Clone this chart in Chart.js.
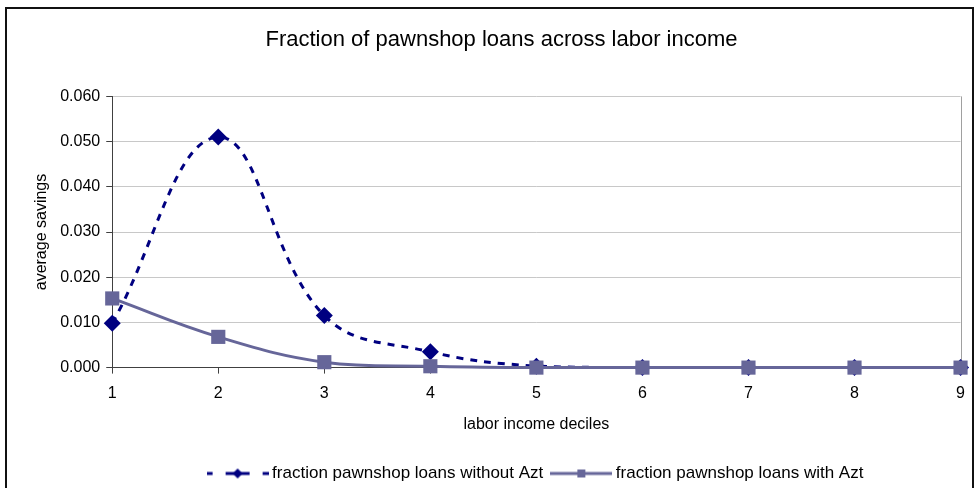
<!DOCTYPE html>
<html>
<head>
<meta charset="utf-8">
<script src="https://cdn.jsdelivr.net/npm/chart.js@4"></script>
<style>
    html, body { margin: 0; padding: 0; background: #fff; }
    #wrap { position: relative; width: 975px; height: 488px; overflow: hidden; }
    #frame {
        position: absolute; left: 5px; top: 7px; width: 969px; height: 500px;
        border: 2px solid #111; box-sizing: border-box;
    }
    canvas { position: absolute; left: 0; top: 0; }
</style>
</head>
<body>
<div id="wrap">
    <div id="frame"></div>
    <canvas id="chart" width="975" height="488"></canvas>
</div>
<script>
const deciles = ['1', '2', '3', '4', '5', '6', '7', '8', '9']
const withoutAzt = [0.0098, 0.0510, 0.0115, 0.0035, 0.0003, 0.0000, 0.0000, 0.0000, 0.0000]
const withAzt = [0.0153, 0.0068, 0.0012, 0.0003, 0.0000, 0.0000, 0.0000, 0.0000, 0.0000]
const yTicks = [0, 0.01, 0.02, 0.03, 0.04, 0.05, 0.06]

const NAVY = '#000080'
const PURPLE = '#666699'
const FONT = 'Arial, "Liberation Sans", sans-serif'

// little line+marker samples for the legend
function legendSample(color, dashed, marker) {
    const c = document.createElement('canvas')
    c.width = 62
    c.height = 16
    const ctx = c.getContext('2d')
    ctx.strokeStyle = color
    ctx.fillStyle = color
    ctx.lineWidth = 3
    ctx.beginPath()
    if (dashed) {
        for (const [a, b] of [[0, 6], [19, 25], [37, 43], [56, 62]]) {
            ctx.moveTo(a, 8)
            ctx.lineTo(b, 8)
        }
        ctx.stroke()
    } else {
        ctx.moveTo(0, 8)
        ctx.lineTo(62, 8)
        ctx.stroke()
    }
    if (marker === 'diamond') {
        ctx.beginPath()
        ctx.moveTo(31, 3)
        ctx.lineTo(36, 8)
        ctx.lineTo(31, 13)
        ctx.lineTo(26, 8)
        ctx.closePath()
        ctx.fill()
        ctx.fillRect(25, 6.5, 12, 3)
    } else {
        ctx.fillRect(27, 4, 8, 8)
    }
    return c
}

const samples = [
    legendSample(NAVY, true, 'diamond'),
    legendSample(PURPLE, false, 'square')
]

// plot frame on the right-hand side, legend moved under the plot
const plotFrame = {
    id: 'plotFrame',
    beforeDraw(chart) {
        const lg = chart.legend
        if (lg && !lg._nudged) {
            lg.left += 36
            lg.right += 36
            lg.top += 4
            lg.bottom += 4
            lg._nudged = true
        }
    },
    beforeDatasetsDraw(chart) {
        const a = chart.chartArea
        const ctx = chart.ctx
        ctx.save()
        ctx.strokeStyle = '#a0a0a0'
        ctx.lineWidth = 1
        ctx.beginPath()
        ctx.moveTo(Math.round(a.right) + 0.5, a.top)
        ctx.lineTo(Math.round(a.right) + 0.5, a.bottom)
        ctx.stroke()
        ctx.restore()
    }
}

new Chart(document.getElementById('chart'), {
    type: 'line',
    data: {
        labels: deciles,
        datasets: [{
            label: 'fraction pawnshop loans without Azt',
            data: withoutAzt,
            borderColor: NAVY,
            backgroundColor: NAVY,
            borderWidth: 3,
            borderDash: [7, 7],
            tension: 0.4,
            pointStyle: 'rectRot',
            pointRadius: 8.5,
            pointBorderWidth: 0,
            clip: false,
            order: 2
        }, {
            label: 'fraction pawnshop loans with Azt',
            data: withAzt,
            borderColor: PURPLE,
            backgroundColor: PURPLE,
            borderWidth: 3,
            tension: 0.4,
            pointStyle: 'rect',
            pointRadius: 10,
            pointBorderWidth: 0,
            clip: false,
            order: 1
        }]
    },
    options: {
        responsive: false,
        animation: false,
        layout: { padding: { left: 32, right: 4, top: 0, bottom: 0 } },
        plugins: {
            title: {
                display: true,
                text: 'Fraction of pawnshop loans across labor income',
                color: '#000',
                font: { family: FONT, size: 22, weight: 'normal' },
                padding: { top: 27, bottom: 43 }
            },
            legend: {
                position: 'bottom',
                labels: {
                    color: '#000',
                    font: { family: FONT, size: 17 },
                    usePointStyle: true,
                    pointStyleWidth: 52,
                    boxHeight: 14,
                    padding: 12,
                    sort: (a, b) => a.datasetIndex - b.datasetIndex,
                    generateLabels(chart) {
                        const items = Chart.defaults.plugins.legend.labels.generateLabels(chart)
                        items.forEach(item => { item.pointStyle = samples[item.datasetIndex] })
                        return items
                    }
                }
            },
            tooltip: { enabled: false }
        },
        scales: {
            x: {
                offset: false,
                grid: { drawOnChartArea: false, tickLength: 6, color: '#404040', tickColor: '#404040' },
                border: { color: '#404040', width: 1 },
                ticks: { color: '#000', font: { family: FONT, size: 16 }, padding: 10, maxRotation: 0 },
                title: {
                    display: true,
                    text: 'labor income deciles',
                    color: '#000',
                    font: { family: FONT, size: 16 },
                    padding: { top: 2, bottom: 15 }
                }
            },
            y: {
                min: 0,
                max: 0.06,
                afterBuildTicks(scale) {
                    scale.ticks = yTicks.map(v => ({ value: v }))
                },
                grid: { color: '#c8c8c8', tickColor: '#404040', tickLength: 6 },
                border: { color: '#404040', width: 1 },
                ticks: {
                    color: '#000',
                    font: { family: FONT, size: 16 },
                    padding: 6,
                    callback: v => v.toFixed(3)
                },
                title: {
                    display: true,
                    text: 'average savings',
                    color: '#000',
                    font: { family: FONT, size: 16 },
                    padding: { top: 0, bottom: 3 }
                }
            }
        }
    },
    plugins: [plotFrame]
})
</script>
</body>
</html>
